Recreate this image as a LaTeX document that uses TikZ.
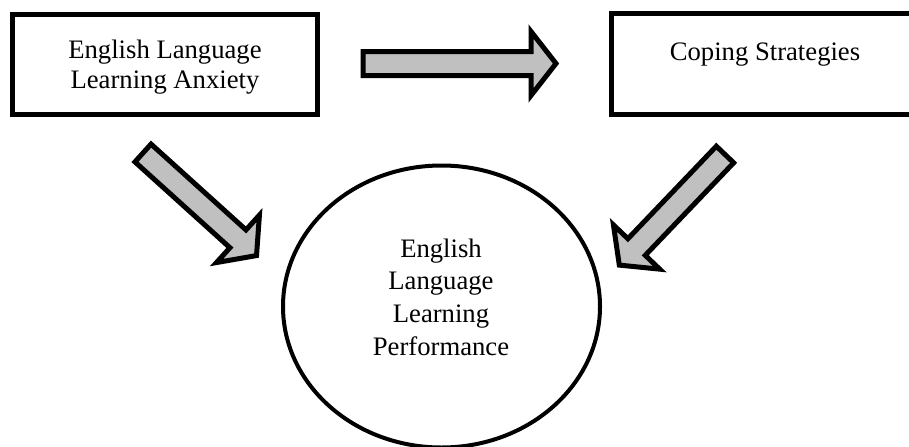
\documentclass[tikz,border=0pt]{standalone}
\usepackage{fontspec}
\setmainfont{Liberation Serif}
\usetikzlibrary{shapes.geometric}
\tikzset{
  boxnode/.style={draw=black, line width=3.75pt, rectangle, inner sep=0pt},
  ovalnode/.style={draw=black, line width=3pt, ellipse, inner sep=0pt, minimum width=237.75pt, minimum height=211.5pt},
  txt/.style={align=center, font=\fontsize{20}{22.5}\selectfont},
  blockarr/.style={draw=black, line width=3.75pt, fill=arrgray, line join=miter}
}
\definecolor{arrgray}{RGB}{192,192,192}
\def\myblockarrow#1#2#3{%
  \draw[blockarr, shift={#1}, rotate=#2]
    (0,-12) -- ({#3-25},-12) -- ({#3-25},-32) -- (#3,0) -- ({#3-25},32) -- ({#3-25},12) -- (0,12) -- cycle;}
\begin{document}
\begin{tikzpicture}[x=0.75pt,y=-0.75pt]
\useasboundingbox (0,0) rectangle (909,446);
\node[boxnode, minimum width=228.75pt, minimum height=75pt] (anx) at (165,64.5) {};
\node[txt] (anxt) at (165,67) {English Language\\Learning Anxiety};
\node[boxnode, minimum width=227.6pt, minimum height=75.75pt] (cop) at (763.25,64) {};
\node[txt] (copt) at (765,55) {Coping Strategies};
\node[ovalnode] (perf) at (441.5,306.5) {};
\node[txt, font=\fontsize{20}{24.5}\selectfont] (perft) at (441,297) {English\\Language\\Learning\\Performance};
\coordinate (a1) at (363,63.5);
\coordinate (a2) at (143,153);
\coordinate (a3) at (725,154.5);
\myblockarrow{(a1)}{0}{193}
\myblockarrow{(a2)}{-42.1}{153}
\myblockarrow{(a3)}{-133.7}{153}
\end{tikzpicture}
\end{document}
